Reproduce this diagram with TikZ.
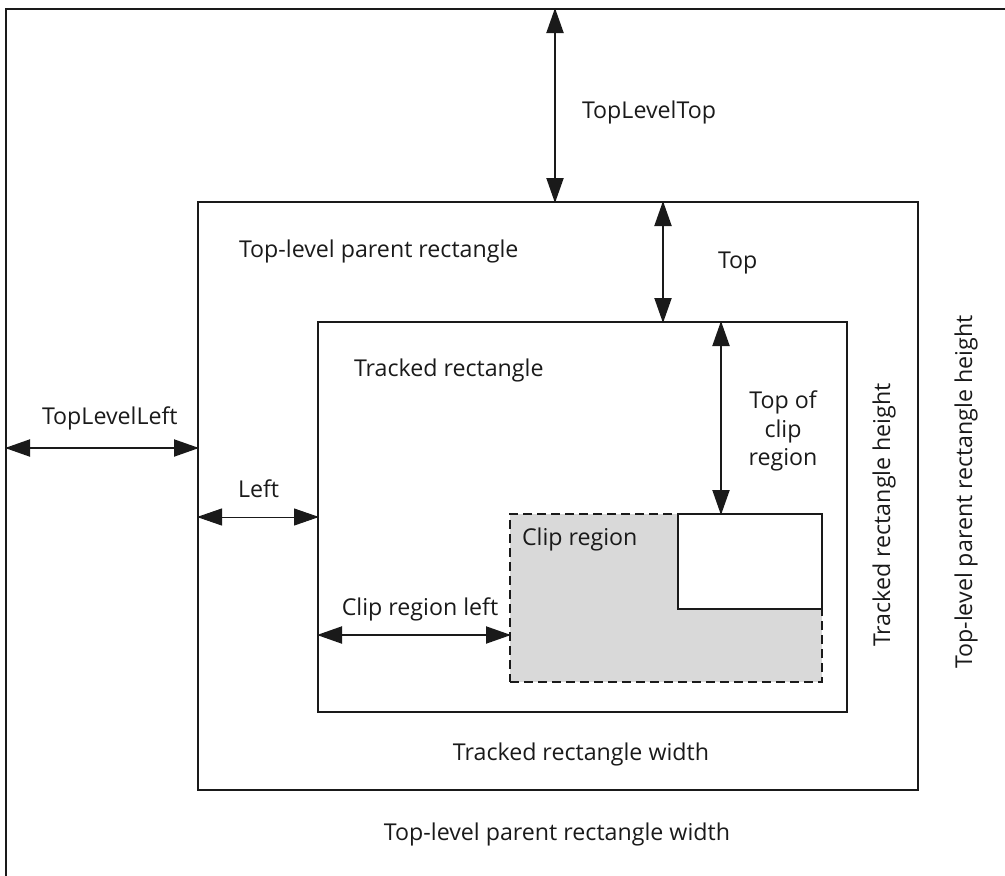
\documentclass[tikz,border=0pt]{standalone}
\usepackage{fontspec}
\setmainfont{Open Sans}
\usetikzlibrary{arrows.meta}
\definecolor{ink}{HTML}{1A1A1A}
\definecolor{clipgray}{HTML}{D9D9D9}
\begin{document}
\begin{tikzpicture}[x=1pt,y=-1pt,
  box/.style={draw=ink,line width=2pt,inner sep=0,outer sep=0,rectangle},
  lbl/.style={inner sep=0,outer sep=0,text=ink,font=\fontsize{23.2}{28.5}\selectfont},
  dim/.style={draw=ink,line width=2pt,{Triangle[length=25pt,width=17pt]}-{Triangle[length=25pt,width=17pt]},shorten <=-1pt,shorten >=-1pt},
  thindim/.style={dim,line width=1pt}]
\useasboundingbox (0,0) rectangle (1005,876);
% outer (top-level window) border, only its top and left sides are visible
\coordinate (otl) at (6,9);
\draw[ink,line width=2pt] (6,880) -- (otl) -- (1010,9);
% rectangles
\node[box,minimum width=720pt,minimum height=588pt] (parent) at (558,496) {};
\node[box,minimum width=529pt,minimum height=390pt] (tracked) at (582.5,517) {};
\node[box,fill=clipgray,dash pattern=on 9pt off 5pt,minimum width=312pt,minimum height=168pt] (clip) at (666,598) {};
\node[box,fill=white,minimum width=144pt,minimum height=95pt] (hole) at (750,561.5) {};
% anchor coordinates for the dimension arrows
\coordinate (tlt) at (555,9);
\coordinate (tpx) at (663,0);
\coordinate (tcx) at (721,0);
\coordinate (tll) at (6,448);
\coordinate (lfy) at (0,517);
\coordinate (cly) at (0,635);
% dimension arrows
\draw[dim] (tlt) -- (tlt |- parent.north);
\draw[dim] (tpx |- parent.north) -- (tpx |- tracked.north);
\draw[dim] (tcx |- tracked.north) -- (tcx |- clip.north);
\draw[dim] (tll) -- (tll -| parent.west);
\draw[thindim] (lfy -| parent.west) -- (lfy -| tracked.west);
\draw[dim] (cly -| tracked.west) -- (cly -| clip.west);
% labels
\node[lbl,anchor=base west] (ltlt) at (582,118) {TopLevelTop};
\node[lbl,anchor=base west] (ltop) at (718,268) {Top};
\node[lbl,anchor=base west] (lpar) at (239,257) {Top-level parent rectangle};
\node[lbl,anchor=base west] (ltrk) at (354,376) {Tracked rectangle};
\node[lbl,align=center] (ltoc) at (783,431) {Top of\\clip\\region};
\node[lbl,anchor=base west] (ltll) at (42,424) {TopLevelLeft};
\node[lbl,anchor=base west] (llft) at (238,497) {Left};
\node[lbl,anchor=base] (lclf) at (420,615) {Clip region left};
\node[lbl,anchor=base west] (lclp) at (522,545) {Clip region};
\node[lbl,anchor=base] (ltrw) at (581,760) {Tracked rectangle width};
\node[lbl,anchor=base] (lprw) at (557,840) {Top-level parent rectangle width};
\node[lbl,anchor=base,rotate=90] (ltrh) at (890,515) {Tracked rectangle height};
\node[lbl,anchor=base,rotate=90] (lprh) at (972,492) {Top-level parent rectangle height};
\end{tikzpicture}
\end{document}
